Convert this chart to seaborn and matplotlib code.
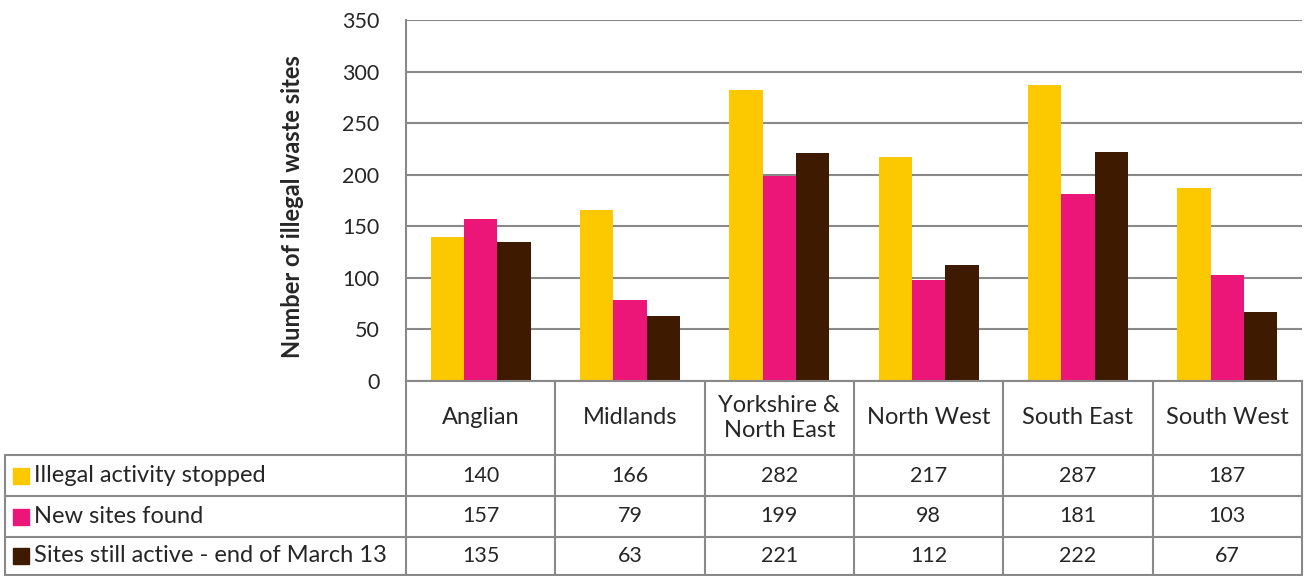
import matplotlib.pyplot as plt
import matplotlib.transforms as mtransforms
import pandas as pd
import seaborn as sns

# chart values
regions = ['Anglian', 'Midlands', 'Yorkshire &\nNorth East', 'North West', 'South East', 'South West']
series = ['Illegal activity stopped', 'New sites found', 'Sites still active - end of March 13']
stopped = [140, 166, 282, 217, 287, 187]
new_sites = [157, 79, 199, 98, 181, 103]
still_active = [135, 63, 221, 112, 222, 67]
colors = ['#FCC800', '#EC1679', '#3D1A00']

rows = [stopped, new_sites, still_active]
data = pd.DataFrame({
    'region': regions * 3,
    'series': [s for s in series for _ in regions],
    'value': stopped + new_sites + still_active,
})

sns.set_style('white')
plt.rcParams['font.family'] = ['Lato', 'DejaVu Sans']
txt_size = 17
num_size = 15.5

W, H = 1305, 576
fig = plt.figure(figsize=(W / 100, H / 100), dpi=100)
left, right, top, bottom = 406, 1302, 20, 381
ax = fig.add_axes([left / W, 1 - bottom / H, (right - left) / W, (bottom - top) / H])

sns.barplot(data=data, x='region', y='value', hue='series', palette=colors,
            width=0.67, saturation=1, ax=ax, legend=False, linewidth=0)

grid_col = '#898989'
ax.set_ylim(0, 350)
ax.set_xlim(-0.5, len(regions) - 0.5)
ax.set_yticks(range(0, 351, 50))
ax.yaxis.grid(True, color=grid_col, linewidth=1.5)
ax.set_axisbelow(True)
ax.tick_params(axis='y', length=5, color=grid_col, width=1.5, labelsize=num_size, pad=14)
ax.set_xticks([])
ax.set_xlabel('')
ax.set_ylabel('')
for side in ['top', 'right']:
    ax.spines[side].set_visible(False)
for side in ['left', 'bottom']:
    ax.spines[side].set_color(grid_col)
    ax.spines[side].set_linewidth(1.5)


def fy(py):
    return 1 - py / H


def fx(px):
    return px / W


fig.text(fx(292), fy(207), 'Number of illegal waste sites', rotation=90,
         ha='center', va='center', fontsize=txt_size, fontweight='bold')

# data table below the axes
row_tops = [455, 496, 537]
table_bottom = 575
line_kw = dict(color=grid_col, linewidth=1.5, transform=fig.transFigure)
col_w = (right - left) / len(regions)
for i in range(len(regions) + 1):
    x = left + i * col_w
    fig.add_artist(plt.Line2D([fx(x), fx(x)], [fy(bottom), fy(table_bottom)], **line_kw))
fig.add_artist(plt.Line2D([fx(5), fx(5)], [fy(455), fy(table_bottom)], **line_kw))
for y in row_tops + [table_bottom]:
    fig.add_artist(plt.Line2D([fx(5), fx(right)], [fy(y), fy(y)], **line_kw))

trans = mtransforms.blended_transform_factory(ax.transData, fig.transFigure)
for i, name in enumerate(regions):
    fig.text(i, fy((bottom + 455) / 2), name, transform=trans, ha='center', va='center',
             fontsize=txt_size, linespacing=1.2)

for r, (name, vals, col) in enumerate(zip(series, rows, colors)):
    y_top = row_tops[r]
    y_bot = row_tops[r + 1] if r + 1 < len(row_tops) else table_bottom
    yc = fy((y_top + y_bot) / 2)
    fig.add_artist(plt.Rectangle((fx(13), yc - 8 / H), 16 / W, 16 / H,
                                 transform=fig.transFigure, color=col))
    fig.text(fx(34), yc, name, ha='left', va='center', fontsize=txt_size)
    for i, v in enumerate(vals):
        fig.text(i, yc, str(v), transform=trans, ha='center', va='center', fontsize=num_size)

fig.savefig('out.png', dpi=100)
